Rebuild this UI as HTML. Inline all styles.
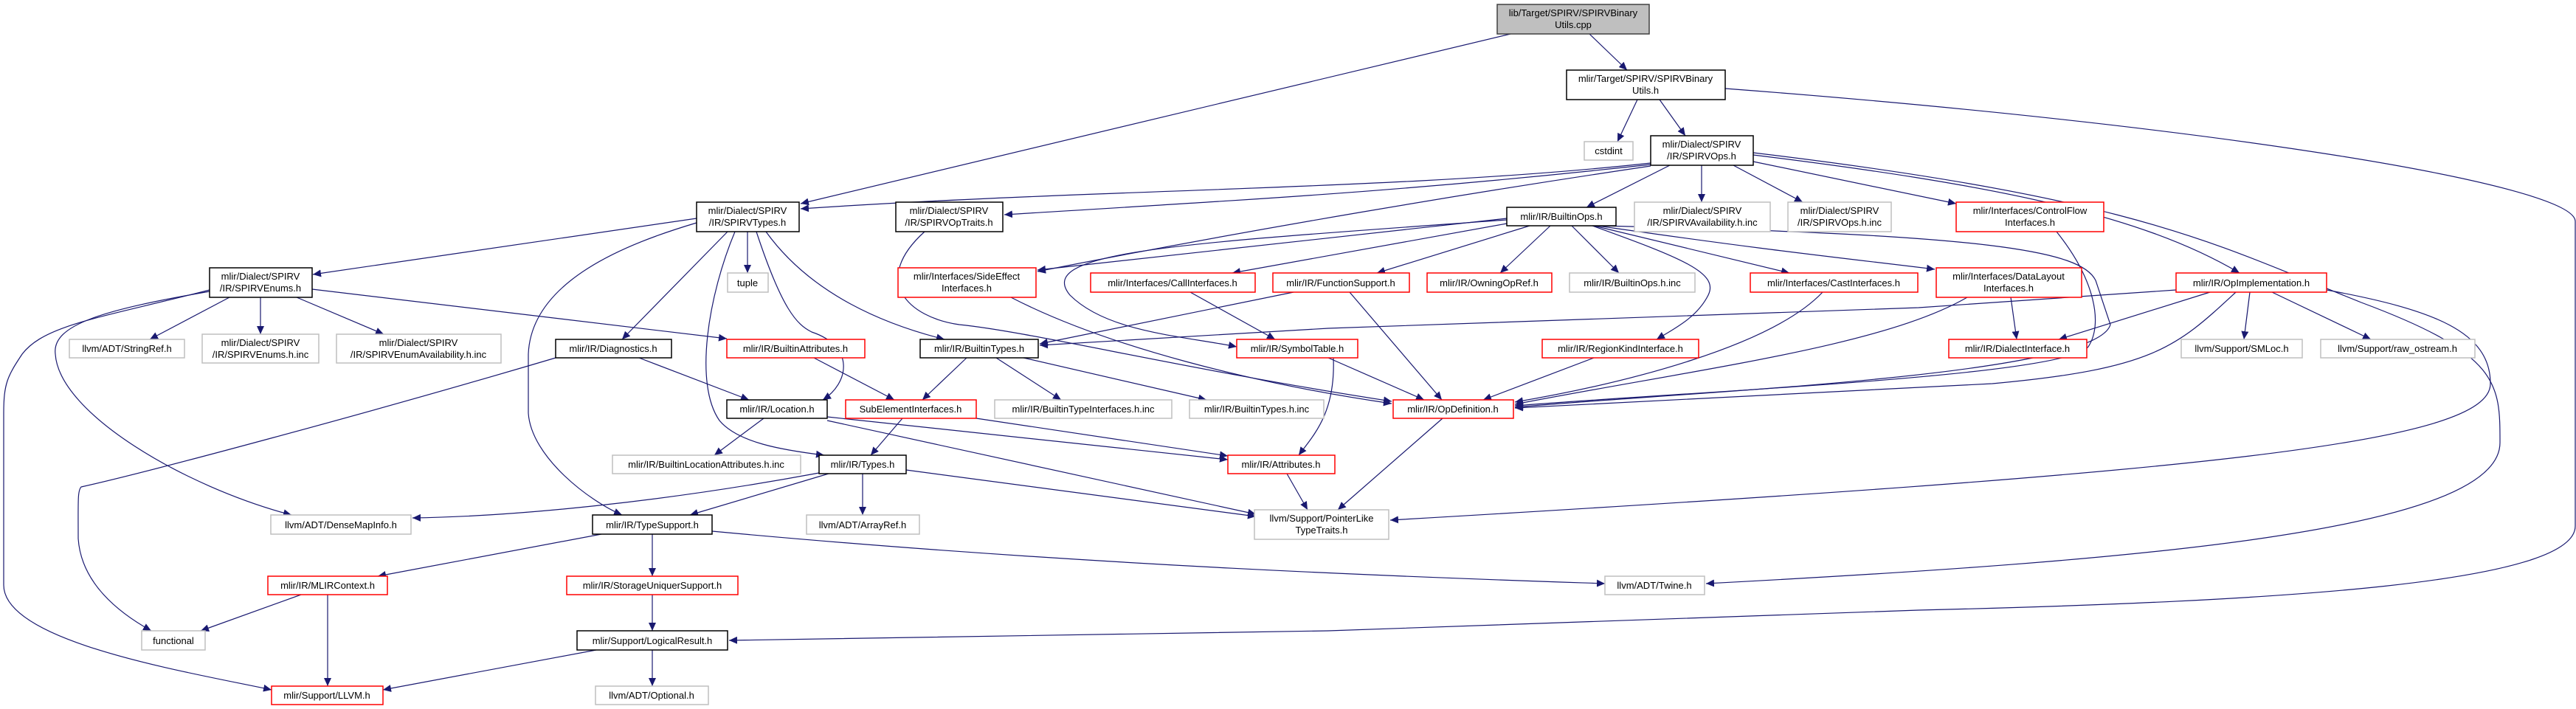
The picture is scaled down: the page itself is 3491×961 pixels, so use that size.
<!DOCTYPE html>
<html><head><meta charset="utf-8"><style>
html,body{margin:0;padding:0;background:#fff;}
svg{display:block;}
text{font-family:"Liberation Sans",sans-serif;font-size:13px;fill:#000;}
</style></head><body>
<svg width="3491" height="961" viewBox="0 0 3491 961" xmlns="http://www.w3.org/2000/svg">
<defs>
<marker id="a" markerUnits="userSpaceOnUse" markerWidth="12" markerHeight="10" refX="11" refY="5" orient="auto"><path d="M0,0 L11,5 L0,10 z" fill="#191970"/></marker>
</defs>
<g fill="none" stroke="#191970" stroke-width="1.2" marker-end="url(#a)">
<path d="M2047,46 L1085,276"/>
<path d="M2154,46 L2205,95"/>
<path d="M2219,135 L2192,192"/>
<path d="M2249,135 L2284,184"/>
<path d="M2338,120 C3000,170 3490,250 3490,300 L3490,713 C3490,790 3100,815 2600,827 L1800,855 L988,868"/>
<path d="M2237,221 C1900,258 1500,255 1085,283"/>
<path d="M2237,223 C1900,260 1700,270 1361,291"/>
<path d="M2237,225 C2000,260 1700,310 1406,368"/>
<path d="M2263,224 L2150,281"/>
<path d="M2306,224 L2306,274"/>
<path d="M2349,224 L2443,274"/>
<path d="M2376,219 L2651,276"/>
<path d="M2376,210 C2700,250 2900,290 3035,370"/>
<path d="M2376,207 C2900,270 3000,330 3200,410 C3388,480 3388,520 3388,600 C3388,720 2900,760 2312,791"/>
<path d="M3153,393 C3300,420 3375,450 3375,520 C3375,600 3000,640 1884,705"/>
<path d="M2042,296 L1406,366"/>
<path d="M2042,303 L1670,370"/>
<path d="M2073,306 L1866,370"/>
<path d="M2101,306 L2033,370"/>
<path d="M2130,306 L2194,370"/>
<path d="M2160,306 L2425,370"/>
<path d="M2165,306 C2400,340 2500,350 2622,365"/>
<path d="M2158,306 C2280,350 2330,370 2315,400 C2300,430 2270,445 2245,460"/>
<path d="M2042,298 C1600,330 1400,340 1450,400 C1500,450 1600,455 1676,470"/>
<path d="M2168,306 C2700,318 2820,340 2840,380 L2860,440 C2840,510 2300,530 2053,552"/>
<path d="M2787,314 C2840,380 2850,440 2830,470 C2800,510 2300,530 2053,550"/>
<path d="M3030,396 C2950,470 2920,500 2700,520 L2053,553"/>
<path d="M2949,393 L2600,417 L1800,445 L1409,468"/>
<path d="M2995,396 L2790,460"/>
<path d="M3049,396 L3041,460"/>
<path d="M3079,396 L3213,460"/>
<path d="M2725,403 L2733,460"/>
<path d="M2666,403 C2550,470 2300,500 2053,548"/>
<path d="M2470,396 C2400,470 2200,520 2053,545"/>
<path d="M2160,485 L2010,542"/>
<path d="M1753,396 L1409,466"/>
<path d="M1829,396 L1954,542"/>
<path d="M1613,396 L1728,460"/>
<path d="M1800,485 L1930,542"/>
<path d="M1370,403 C1500,470 1700,520 1886,547"/>
<path d="M1253,314 C1180,380 1230,430 1300,440 C1400,450 1600,500 1886,544"/>
<path d="M1807,485 C1810,560 1780,590 1760,617"/>
<path d="M1310,485 L1250,542"/>
<path d="M1350,485 L1438,542"/>
<path d="M1387,485 L1635,542"/>
<path d="M944,296 L424,372"/>
<path d="M986,314 L843,460"/>
<path d="M1013,314 L1013,370"/>
<path d="M996,314 C960,400 940,520 975,570 C1000,600 1060,610 1117,617"/>
<path d="M1025,314 C1060,420 1080,440 1100,450 C1160,470 1150,520 1115,542"/>
<path d="M1038,314 C1100,400 1200,440 1280,460"/>
<path d="M944,302 C850,330 720,380 716,480 L716,560 C720,620 800,680 843,698"/>
<path d="M311,403 L203,460"/>
<path d="M353,403 L353,453"/>
<path d="M402,403 L520,453"/>
<path d="M423,392 L985,459"/>
<path d="M284,393 C140,430 60,440 30,480 C10,510 5,520 5,560 L5,793 C5,870 250,910 368,935"/>
<path d="M284,395 C140,420 70,440 75,480 C80,560 250,660 395,698"/>
<path d="M866,485 L1015,542"/>
<path d="M753,485 C500,560 200,640 110,660 C105,665 106,680 106,730 C110,790 160,830 205,855"/>
<path d="M1103,485 L1212,542"/>
<path d="M1035,567 L968,617"/>
<path d="M1121,565 L1664,623"/>
<path d="M1121,570 L1702,697"/>
<path d="M1223,567 L1180,617"/>
<path d="M1323,567 L1664,618"/>
<path d="M1123,642 L935,698"/>
<path d="M1169,642 L1169,698"/>
<path d="M1228,637 L1702,700"/>
<path d="M1110,641 C900,680 700,700 559,702"/>
<path d="M1744,642 L1772,691"/>
<path d="M1955,567 L1813,691"/>
<path d="M815,724 L512,781"/>
<path d="M884,724 L884,781"/>
<path d="M965,720 C1500,770 2000,785 2175,791"/>
<path d="M408,806 L272,855"/>
<path d="M444,806 L444,930"/>
<path d="M884,806 L884,855"/>
<path d="M808,881 L519,935"/>
<path d="M884,881 L884,930"/>
</g>
<g stroke-width="1.5">
<rect x="2029" y="6" width="206" height="40" fill="#bfbfbf" stroke="#404040"/>
<text x="2132" y="22" text-anchor="middle">lib/Target/SPIRV/SPIRVBinary</text><text x="2132" y="38" text-anchor="middle">Utils.cpp</text>
<g fill="#fff" stroke="#000">
<rect x="2123" y="95" width="215" height="40"/>
<rect x="2237" y="184" width="139" height="40"/>
<rect x="944" y="274" width="139" height="40"/>
<rect x="1214" y="274" width="145" height="40"/>
<rect x="2042" y="281" width="148" height="25"/>
<rect x="284" y="363" width="139" height="40"/>
<rect x="753" y="460" width="157" height="25"/>
<rect x="1247" y="460" width="160" height="25"/>
<rect x="985" y="542" width="136" height="25"/>
<rect x="1110" y="617" width="118" height="25"/>
<rect x="803" y="698" width="162" height="26"/>
<rect x="782" y="855" width="204" height="26"/>
</g>
<g fill="#fff" stroke="#ff0000">
<rect x="2651" y="274" width="200" height="40"/>
<rect x="1217" y="363" width="187" height="40"/>
<rect x="1478" y="370" width="223" height="26"/>
<rect x="1725" y="370" width="185" height="26"/>
<rect x="1934" y="370" width="169" height="26"/>
<rect x="2372" y="370" width="227" height="26"/>
<rect x="2624" y="363" width="197" height="40"/>
<rect x="2949" y="370" width="204" height="26"/>
<rect x="985" y="460" width="187" height="25"/>
<rect x="1676" y="460" width="164" height="25"/>
<rect x="2090" y="460" width="212" height="25"/>
<rect x="2641" y="460" width="187" height="25"/>
<rect x="1146" y="542" width="177" height="25"/>
<rect x="1888" y="542" width="163" height="25"/>
<rect x="1664" y="617" width="145" height="25"/>
<rect x="363" y="781" width="162" height="25"/>
<rect x="768" y="781" width="232" height="25"/>
<rect x="368" y="930" width="151" height="25"/>
</g>
<g fill="#fff" stroke="#bfbfbf">
<rect x="2147" y="192" width="66" height="25"/>
<rect x="2215" y="274" width="184" height="40"/>
<rect x="2423" y="274" width="140" height="40"/>
<rect x="986" y="370" width="55" height="26"/>
<rect x="2127" y="370" width="170" height="26"/>
<rect x="94" y="460" width="156" height="25"/>
<rect x="274" y="453" width="158" height="39"/>
<rect x="456" y="453" width="223" height="39"/>
<rect x="2956" y="460" width="164" height="25"/>
<rect x="3145" y="460" width="209" height="25"/>
<rect x="1348" y="542" width="240" height="25"/>
<rect x="1612" y="542" width="182" height="25"/>
<rect x="830" y="617" width="255" height="25"/>
<rect x="367" y="698" width="190" height="26"/>
<rect x="1093" y="698" width="153" height="26"/>
<rect x="1700" y="691" width="182" height="40"/>
<rect x="2175" y="781" width="135" height="25"/>
<rect x="192" y="855" width="86" height="26"/>
<rect x="807" y="930" width="153" height="25"/>
</g>
</g>
<g text-anchor="middle">
<text x="2230" y="111">mlir/Target/SPIRV/SPIRVBinary</text><text x="2230" y="127">Utils.h</text>
<text x="2306" y="200">mlir/Dialect/SPIRV</text><text x="2306" y="216">/IR/SPIRVOps.h</text>
<text x="1013" y="290">mlir/Dialect/SPIRV</text><text x="1013" y="306">/IR/SPIRVTypes.h</text>
<text x="1286" y="290">mlir/Dialect/SPIRV</text><text x="1286" y="306">/IR/SPIRVOpTraits.h</text>
<text x="2116" y="298">mlir/IR/BuiltinOps.h</text>
<text x="353" y="379">mlir/Dialect/SPIRV</text><text x="353" y="395">/IR/SPIRVEnums.h</text>
<text x="831" y="477">mlir/IR/Diagnostics.h</text>
<text x="1327" y="477">mlir/IR/BuiltinTypes.h</text>
<text x="1053" y="559">mlir/IR/Location.h</text>
<text x="1169" y="634">mlir/IR/Types.h</text>
<text x="884" y="716">mlir/IR/TypeSupport.h</text>
<text x="884" y="873">mlir/Support/LogicalResult.h</text>
<text x="2751" y="290">mlir/Interfaces/ControlFlow</text><text x="2751" y="306">Interfaces.h</text>
<text x="1310" y="379">mlir/Interfaces/SideEffect</text><text x="1310" y="395">Interfaces.h</text>
<text x="1589" y="388">mlir/Interfaces/CallInterfaces.h</text>
<text x="1817" y="388">mlir/IR/FunctionSupport.h</text>
<text x="2018" y="388">mlir/IR/OwningOpRef.h</text>
<text x="2485" y="388">mlir/Interfaces/CastInterfaces.h</text>
<text x="2722" y="379">mlir/Interfaces/DataLayout</text><text x="2722" y="395">Interfaces.h</text>
<text x="3051" y="388">mlir/IR/OpImplementation.h</text>
<text x="1078" y="477">mlir/IR/BuiltinAttributes.h</text>
<text x="1758" y="477">mlir/IR/SymbolTable.h</text>
<text x="2196" y="477">mlir/IR/RegionKindInterface.h</text>
<text x="2734" y="477">mlir/IR/DialectInterface.h</text>
<text x="1234" y="559">SubElementInterfaces.h</text>
<text x="1969" y="559">mlir/IR/OpDefinition.h</text>
<text x="1736" y="634">mlir/IR/Attributes.h</text>
<text x="444" y="798">mlir/IR/MLIRContext.h</text>
<text x="884" y="798">mlir/IR/StorageUniquerSupport.h</text>
<text x="443" y="947">mlir/Support/LLVM.h</text>
<text x="2180" y="209">cstdint</text>
<text x="2307" y="290">mlir/Dialect/SPIRV</text><text x="2307" y="306">/IR/SPIRVAvailability.h.inc</text>
<text x="2493" y="290">mlir/Dialect/SPIRV</text><text x="2493" y="306">/IR/SPIRVOps.h.inc</text>
<text x="1013" y="388">tuple</text>
<text x="2212" y="388">mlir/IR/BuiltinOps.h.inc</text>
<text x="172" y="477">llvm/ADT/StringRef.h</text>
<text x="353" y="469">mlir/Dialect/SPIRV</text><text x="353" y="485">/IR/SPIRVEnums.h.inc</text>
<text x="567" y="469">mlir/Dialect/SPIRV</text><text x="567" y="485">/IR/SPIRVEnumAvailability.h.inc</text>
<text x="3038" y="477">llvm/Support/SMLoc.h</text>
<text x="3249" y="477">llvm/Support/raw_ostream.h</text>
<text x="1468" y="559">mlir/IR/BuiltinTypeInterfaces.h.inc</text>
<text x="1703" y="559">mlir/IR/BuiltinTypes.h.inc</text>
<text x="957" y="634">mlir/IR/BuiltinLocationAttributes.h.inc</text>
<text x="462" y="716">llvm/ADT/DenseMapInfo.h</text>
<text x="1169" y="716">llvm/ADT/ArrayRef.h</text>
<text x="1791" y="707">llvm/Support/PointerLike</text><text x="1791" y="723">TypeTraits.h</text>
<text x="2242" y="798">llvm/ADT/Twine.h</text>
<text x="235" y="873">functional</text>
<text x="883" y="947">llvm/ADT/Optional.h</text>
</g>
</svg>
</body></html>
